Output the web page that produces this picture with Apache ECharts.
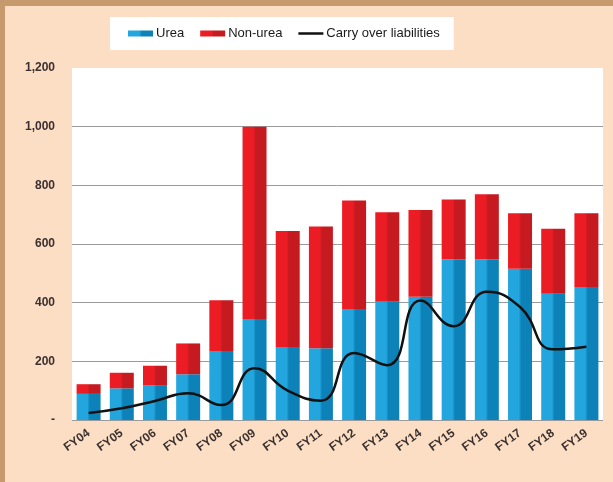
<!DOCTYPE html>
<html>
<head>
<meta charset="utf-8">
<script src="https://cdn.jsdelivr.net/npm/echarts@6/dist/echarts.min.js"></script>
<style>
  html, body { margin: 0; padding: 0; }
  #chart { width: 613px; height: 482px; }
</style>
</head>
<body>
<div id="chart"></div>
<script>
// data
const years = ['FY04', 'FY05', 'FY06', 'FY07', 'FY08', 'FY09', 'FY10', 'FY11',
  'FY12', 'FY13', 'FY14', 'FY15', 'FY16', 'FY17', 'FY18', 'FY19'];
const urea = [89, 108, 119, 156, 235, 344, 249, 245, 378, 403, 420, 548, 548, 516, 430, 453];
const totals = [122, 161, 185, 261, 408, 1000, 644, 660, 748, 708, 716, 752, 770, 705, 652, 705];
const nonUrea = totals.map((t, i) => t - urea[i]);
const carryOver = [24, 40, 65, 91, 51, 176, 100, 66, 228, 187, 407, 320, 437, 385, 241, 250];

const chart = echarts.init(document.getElementById('chart'));

const barGrad = (light, dark) => new echarts.graphic.LinearGradient(0, 0, 1, 0, [
  { offset: 0, color: light },
  { offset: 0.45, color: light },
  { offset: 0.55, color: dark },
  { offset: 1, color: dark }
]);

// thin line icon for the legend (bbox 25 x 6, same as the swatches, bar in the middle)
const lineIcon = 'path://M0,0H0.1V0.1H0Z M0,1.8H25V4.2H0Z M0,5.9H0.1V6H0Z';

const option = {
  backgroundColor: '#fbdec3',
  animation: false,
  textStyle: { fontFamily: 'Liberation Sans, Arial, sans-serif' },
  graphic: [
    { type: 'rect', shape: { x: 0, y: 0, width: 613, height: 6 }, style: { fill: '#c79a6e' } },
    { type: 'rect', shape: { x: 0, y: 0, width: 5, height: 482 }, style: { fill: '#c79a6e' } }
  ],
  legend: {
    left: 110,
    top: 17,
    backgroundColor: '#ffffff',
    padding: [10, 14, 10, 18],
    itemGap: 16,
    itemWidth: 25,
    itemHeight: 6,
    textStyle: { fontSize: 13, color: '#1a1a1a', padding: [0, 0, 0, -2] },
    data: [
      { name: 'Urea', icon: 'rect' },
      { name: 'Non-urea', icon: 'rect' },
      { name: 'Carry over liabilities', icon: lineIcon }
    ]
  },
  grid: {
    left: 72,
    right: 10,
    top: 68,
    bottom: 62,
    show: true,
    backgroundColor: '#ffffff',
    borderWidth: 0
  },
  xAxis: {
    type: 'category',
    data: years,
    axisLine: { show: false },
    axisTick: { show: false },
    axisLabel: {
      rotate: 36,
      margin: 12,
      fontSize: 12,
      fontWeight: 'bold',
      color: '#3a3030'
    }
  },
  yAxis: {
    type: 'value',
    min: 0,
    max: 1200,
    interval: 200,
    axisLine: { show: false },
    axisTick: { show: false },
    splitLine: {
      lineStyle: {
        // no visible line at the very top edge of the plot
        color: ['#9a9a9a', '#9a9a9a', '#9a9a9a', '#9a9a9a', '#9a9a9a', '#9a9a9a', '#ffffff'],
        width: 1
      }
    },
    axisLabel: {
      margin: 17,
      fontSize: 12,
      fontWeight: 'bold',
      color: '#3a3030',
      formatter: v => v === 0 ? '-' : v.toLocaleString('en-US')
    }
  },
  series: [
    {
      name: 'Urea',
      type: 'bar',
      stack: 'sub',
      barWidth: 24,
      itemStyle: { color: barGrad('#23a6de', '#0c82b8') },
      data: urea
    },
    {
      name: 'Non-urea',
      type: 'bar',
      stack: 'sub',
      barWidth: 24,
      itemStyle: { color: barGrad('#ec1c24', '#c41a20') },
      data: nonUrea
    },
    {
      name: 'Carry over liabilities',
      type: 'line',
      smooth: 0.5,
      symbol: 'none',
      lineStyle: { color: '#111111', width: 2.5 },
      itemStyle: { color: '#111111' },
      data: carryOver
    }
  ]
};

chart.setOption(option);
</script>
</body>
</html>
